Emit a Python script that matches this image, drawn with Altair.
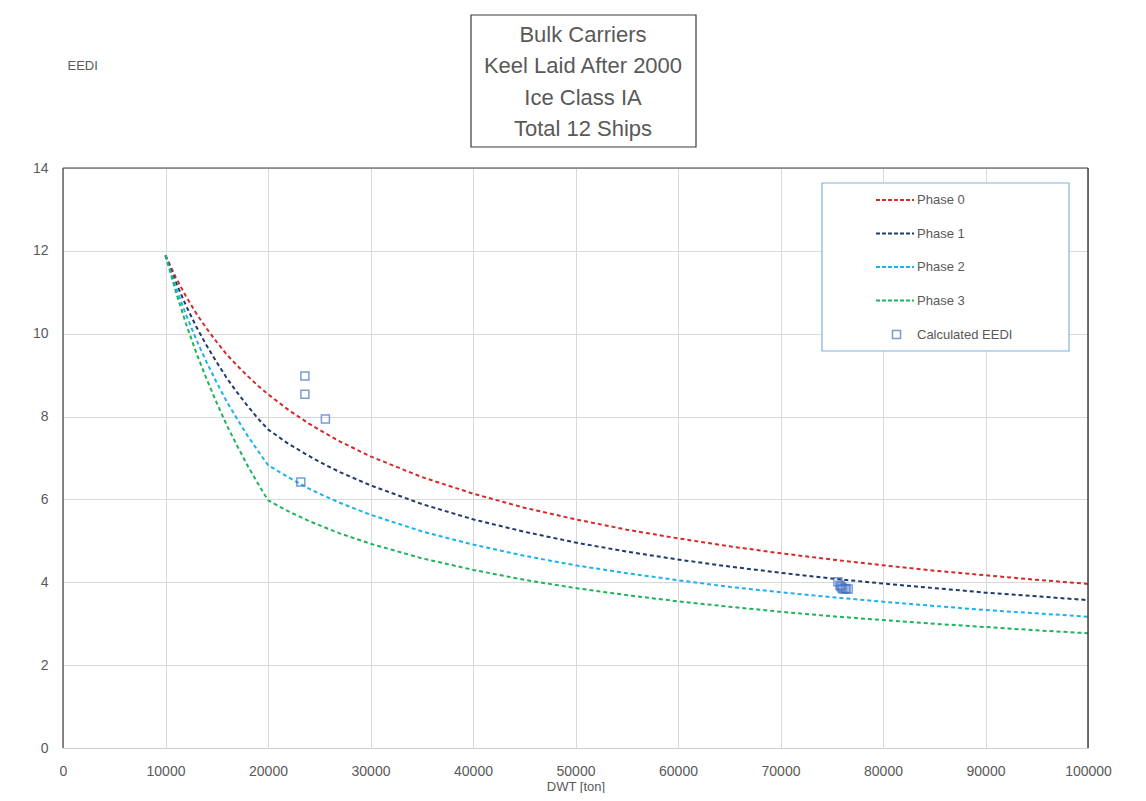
import altair as alt
import pandas as pd

# ---- data ----
dwt_line = [10000, 11000, 12000, 13000, 14000, 15000, 16000, 17000, 18000, 19000,
            20000, 22000, 24000, 25000, 27000, 30000, 35000, 40000, 45000, 50000,
            55000, 60000, 65000, 70000, 75000, 80000, 85000, 90000, 95000, 100000]
phase0 = [11.89, 11.36, 10.90, 10.49, 10.13, 9.80, 9.49, 9.23, 8.98, 8.75,
          8.54, 8.16, 7.83, 7.68, 7.40, 7.04, 6.54, 6.14, 5.80, 5.52,
          5.27, 5.06, 4.87, 4.70, 4.55, 4.41, 4.28, 4.17, 4.06, 3.96]
phase1 = [11.89, 11.25, 10.68, 10.17, 9.72, 9.31, 8.92, 8.58, 8.26, 7.96,
          7.69, 7.34, 7.05, 6.91, 6.66, 6.34, 5.89, 5.52, 5.22, 4.96,
          4.74, 4.55, 4.38, 4.23, 4.09, 3.97, 3.86, 3.75, 3.66, 3.57]
phase2 = [11.89, 11.13, 10.46, 9.86, 9.32, 8.82, 8.35, 7.94, 7.54, 7.18,
          6.83, 6.53, 6.26, 6.14, 5.92, 5.63, 5.23, 4.91, 4.64, 4.41,
          4.22, 4.05, 3.89, 3.76, 3.64, 3.53, 3.43, 3.33, 3.25, 3.17]
phase3 = [11.89, 11.02, 10.24, 9.54, 8.91, 8.33, 7.78, 7.29, 6.82, 6.39,
          5.98, 5.71, 5.48, 5.38, 5.18, 4.93, 4.58, 4.30, 4.06, 3.86,
          3.69, 3.54, 3.41, 3.29, 3.18, 3.09, 3.00, 2.92, 2.84, 2.77]
phase_names = ["Phase 0", "Phase 1", "Phase 2", "Phase 3"]
phase_colors = ["#d42a2a", "#1f3a6e", "#1ab2ee", "#1db35a"]

ship_dwt = [23600, 23600, 25600, 23200, 75600, 75800, 75900, 76000, 76100, 76300, 76400, 76600]
ship_eedi = [8.98, 8.54, 7.94, 6.42, 4.01, 3.93, 3.90, 3.86, 3.84, 3.85, 3.84, 3.84]

title_lines = ["Bulk Carriers", "Keel Laid After 2000", "Ice Class IA", "Total 12 Ships"]
x_ticks = [0, 10000, 20000, 30000, 40000, 50000, 60000, 70000, 80000, 90000, 100000]
y_ticks = [0, 2, 4, 6, 8, 10, 12, 14]

FONT = "Liberation Sans"
GREY = "#595959"

rows = []
for name, vals in zip(phase_names, [phase0, phase1, phase2, phase3]):
    for x, y in zip(dwt_line, vals):
        rows.append({"dwt": x, "eedi": y, "phase": name})
lines_df = pd.DataFrame(rows)
ships_df = pd.DataFrame({"dwt": ship_dwt, "eedi": ship_eedi, "kind": "Calculated EEDI"})
one = pd.DataFrame({"k": [0]})
title_df = pd.DataFrame({"t": ["\n".join(title_lines)]})

xscale = alt.Scale(domain=[0, 100000], nice=False, zero=True)
yscale = alt.Scale(domain=[0, 14], nice=False)

xaxis = alt.Axis(values=x_ticks, format="d", title="DWT [ton]", grid=True, gridColor="#d9d9d9",
                 ticks=False, domain=True, domainColor="#d0d0d0", labelPadding=16, labelFont=FONT,
                 labelFontSize=14, labelColor=GREY, labelFlush=False, titleFont=FONT,
                 titleFontSize=13, titleColor=GREY, titleFontWeight="normal", titlePadding=2)
yaxis = alt.Axis(values=y_ticks, title="EEDI", grid=True, gridColor="#d9d9d9", ticks=False,
                 domain=False, labelPadding=15, labelFont=FONT, labelFontSize=14, labelColor=GREY,
                 labelFlush=False, titleFont=FONT, titleFontSize=13, titleColor=GREY,
                 titleFontWeight="normal", titleAngle=0, titleAlign="left",
                 titleBaseline="middle", titleX=4, titleY=-103)

lines = alt.Chart(lines_df).mark_line(strokeDash=[4, 3], strokeWidth=2).encode(
    x=alt.X("dwt:Q", scale=xscale, axis=xaxis),
    y=alt.Y("eedi:Q", scale=yscale, axis=yaxis),
    color=alt.Color("phase:N", scale=alt.Scale(domain=phase_names, range=phase_colors),
                    legend=alt.Legend(title=None, orient="none", legendX=812, legendY=12,
                                      direction="vertical", padding=0, symbolType="stroke",
                                      symbolSize=1444, symbolStrokeWidth=2, symbolDash=[4, 2],
                                      rowPadding=6.5, labelOffset=2, labelFont=FONT,
                                      labelFontSize=13, labelColor=GREY)),
)

legend_box = alt.Chart(one).mark_rect(fill="white", stroke="#7fb2e3", strokeWidth=1.2).encode(
    x=alt.value(759), x2=alt.value(1006), y=alt.value(15), y2=alt.value(183)
)

title_box = alt.Chart(one).mark_rect(fill="transparent", stroke="#3a3a3a", strokeWidth=1.2).encode(
    x=alt.value(408), x2=alt.value(633), y=alt.value(-153), y2=alt.value(-21)
)

title_text = alt.Chart(title_df).mark_text(font=FONT, fontSize=22, color=GREY, lineBreak="\n",
                                           lineHeight=31.3, align="center", baseline="middle").encode(
    x=alt.value(520), y=alt.value(-133), text="t:N"
)

# plot-area border: dark on top, left and right
border_top = alt.Chart(one).mark_rule(color="#404040", strokeWidth=1.2).encode(
    x=alt.value(0), x2=alt.value(1025), y=alt.value(0))
border_left = alt.Chart(one).mark_rule(color="#404040", strokeWidth=1.2).encode(
    x=alt.value(0), y=alt.value(0), y2=alt.value(580))
border_right = alt.Chart(one).mark_rule(color="#404040", strokeWidth=1.5).encode(
    x=alt.value(1025), y=alt.value(0), y2=alt.value(580))
# faint outer chart-area frame
frame_top = alt.Chart(one).mark_rule(color="#d9d9d9", strokeWidth=1).encode(
    x=alt.value(-56), x2=alt.value(1100), y=alt.value(-162))
frame_left = alt.Chart(one).mark_rule(color="#d9d9d9", strokeWidth=1).encode(
    x=alt.value(-56), y=alt.value(-162), y2=alt.value(700))

points = alt.Chart(ships_df).mark_point(shape="square", filled=False, stroke="#4472c4",
                                        strokeWidth=1.5, size=64).encode(
    x=alt.X("dwt:Q", scale=xscale),
    y=alt.Y("eedi:Q", scale=yscale),
    shape=alt.Shape("kind:N", scale=alt.Scale(domain=["Calculated EEDI"], range=["square"]),
                    legend=alt.Legend(title=None, orient="none", legendX=827, legendY=160,
                                      padding=0, symbolSize=64, symbolStrokeColor="#4472c4",
                                      symbolFillColor="white", symbolStrokeWidth=1.5,
                                      labelOffset=14, labelFont=FONT, labelFontSize=13,
                                      labelColor=GREY)),
)

chart = alt.layer(frame_top, frame_left, legend_box, title_box, title_text, lines, points,
                  border_top, border_left, border_right).properties(
    width=1025, height=580,
    autosize=alt.AutoSizeParams(type="none"),
    padding={"left": 55, "top": 160, "right": 50, "bottom": 45},
).configure_view(stroke=None).configure(background="white")

chart.save("out.html", embed_options={"renderer": "svg", "actions": False})
